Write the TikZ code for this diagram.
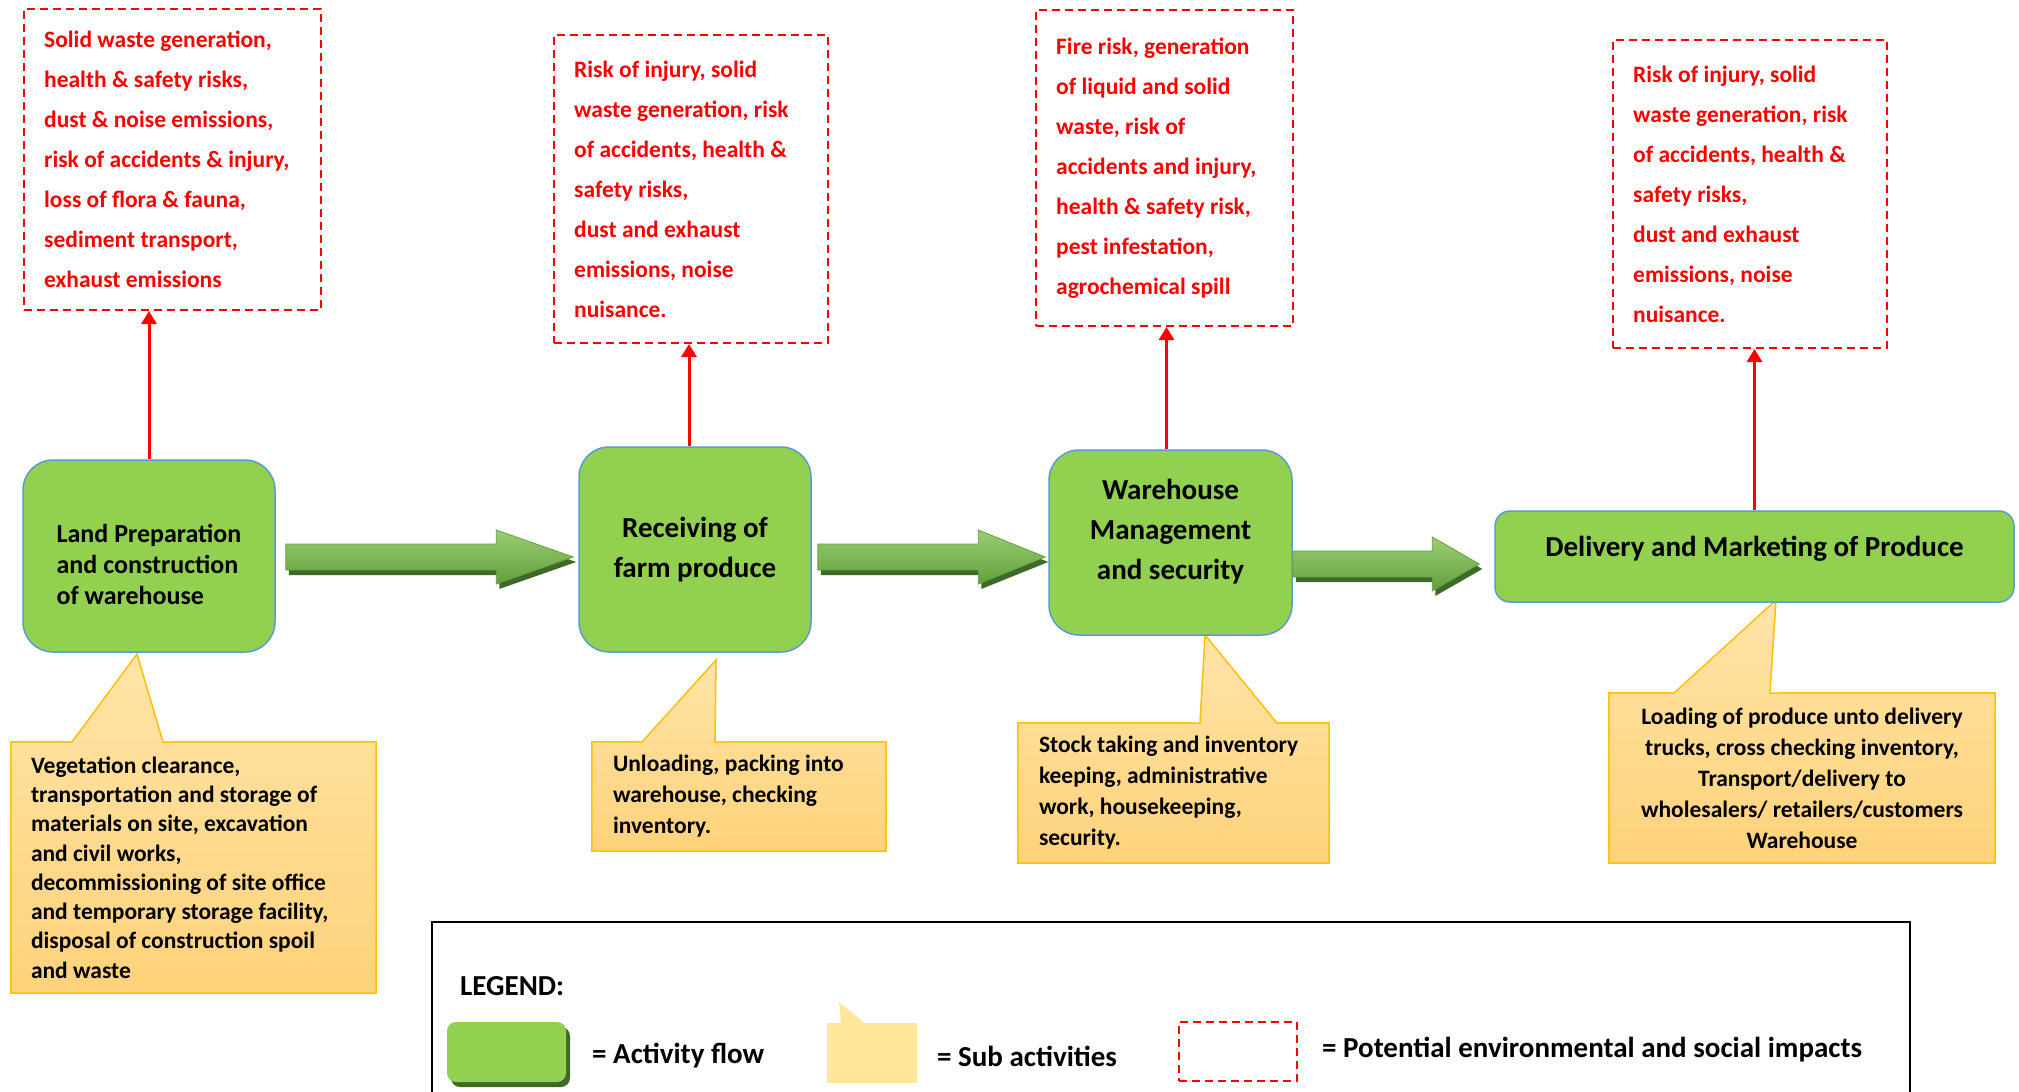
\documentclass[tikz,border=0pt]{standalone}
\usepackage{fontspec}
\setmainfont{Carlito}
\usetikzlibrary{arrows.meta,calc,backgrounds,shadows}

\definecolor{actgreen}{HTML}{92D050}
\definecolor{actline}{HTML}{5B9BD5}
\definecolor{subtop}{HTML}{FFE4A8}
\definecolor{subbottom}{HTML}{FED27A}
\definecolor{subline}{HTML}{FFC000}
\definecolor{legyellow}{HTML}{FFE699}
\definecolor{arrtop}{HTML}{9ACD73}
\definecolor{arrbottom}{HTML}{62A03C}
\definecolor{arrshadow}{HTML}{41682B}

\newcommand{\flowarrow}[3]{%
  \fill[arrshadow, transform canvas={shift={(3pt,-5pt)}}]
    ($(#1)+(0,-13)$) -- ($(#2)+(-#3,-13)$) -- ($(#2)+(-#3,-27)$) -- (#2)
    -- ($(#2)+(-#3,27)$) -- ($(#2)+(-#3,13)$) -- ($(#1)+(0,13)$) -- cycle;
  \shade[top color=arrtop, bottom color=arrbottom, draw=arrbottom, line width=0.8pt]
    ($(#1)+(0,-13)$) -- ($(#2)+(-#3,-13)$) -- ($(#2)+(-#3,-27)$) -- (#2)
    -- ($(#2)+(-#3,27)$) -- ($(#2)+(-#3,13)$) -- ($(#1)+(0,13)$) -- cycle;
}

\begin{document}
\begin{tikzpicture}[x=1pt,y=-1pt,
  activity/.style={rounded corners=30pt, fill=actgreen, draw=actline, line width=1.5pt,
    font=\fontsize{29}{40}\selectfont\bfseries, align=center},
  impact/.style={draw=red, dash pattern=on 8pt off 5pt, line width=2pt},
  impacttext/.style={text=red, font=\fontsize{23.5}{40}\selectfont\bfseries, align=left,
    inner sep=0pt, anchor=west},
  subbox/.style={inner sep=0pt},
  subtext/.style={font=\fontsize{23.5}{31}\selectfont\bfseries, align=left, inner sep=0pt, anchor=west},
  callout/.style={draw=subline, line width=1.5pt, top color=subtop, bottom color=subbottom},
  impactarrow/.style={draw=red, line width=3pt, -{Triangle[length=13pt,width=15pt]}},
  legendtext/.style={font=\fontsize{29}{35}\selectfont\bfseries, inner sep=0pt, anchor=west}
]
\useasboundingbox (0,0) rectangle (2019,1092);

\node[activity, font=\fontsize{26}{31}\selectfont\bfseries, align=left, text height=98pt,
  minimum width=252pt, minimum height=192pt] (land) at (149,556)
  {Land Preparation\\and construction\\of warehouse};
\node[activity, minimum width=232pt, minimum height=205pt] (recv) at (695,549.5)
  {Receiving of\\farm produce};
\node[activity, text depth=27pt, minimum width=243pt, minimum height=185pt] (store) at (1170.5,542.5)
  {Warehouse\\Management\\and security};
\node[activity, rounded corners=15pt, text depth=21pt, minimum width=519pt, minimum height=91pt] (deliver) at (1754.5,556.5)
  {Delivery and Marketing of Produce};

\node[impact, minimum width=297pt, minimum height=301pt] (risk1) at (172.5,159.5) {};
\node[impacttext] (risk1text) at ($(risk1.west)+(21,0)$)
  {Solid waste generation,\\health \& safety risks,\\dust \& noise emissions,\\risk of accidents \& injury,\\loss of flora \& fauna,\\sediment transport,\\exhaust emissions};
\node[impact, minimum width=274pt, minimum height=308pt] (risk2) at (691,189) {};
\node[impacttext] (risk2text) at ($(risk2.west)+(21,0)$)
  {Risk of injury, solid\\waste generation, risk\\of accidents, health \&\\safety risks,\\dust and exhaust\\emissions, noise\\nuisance.};
\node[impact, minimum width=257pt, minimum height=316pt] (risk3) at (1164.5,168) {};
\node[impacttext] (risk3text) at ($(risk3.west)+(21,0)$)
  {Fire risk, generation\\of liquid and solid\\waste, risk of\\accidents and injury,\\health \& safety risk,\\pest infestation,\\agrochemical spill};
\node[impact, minimum width=274pt, minimum height=308pt] (risk4) at (1750,194) {};
\node[impacttext] (risk4text) at ($(risk4.west)+(21,0)$)
  {Risk of injury, solid\\waste generation, risk\\of accidents, health \&\\safety risks,\\dust and exhaust\\emissions, noise\\nuisance.};

\draw[impactarrow] (land.north) -- (land.north |- risk1.south);
\draw[impactarrow] ($(recv.north)+(-6,0)$) -- ($(recv.north |- risk2.south)+(-6,0)$);
\draw[impactarrow] ($(store.north)+(-4,0)$) -- ($(store.north |- risk3.south)+(-4,0)$);
\draw[impactarrow] (deliver.north) -- (deliver.north |- risk4.south);

\coordinate (f1) at ($(land.east)+(10,1)$);
\coordinate (t1) at ($(f1 -| recv.west)+(-5,0)$);
\coordinate (f2) at ($(recv.east)+(6,7.5)$);
\coordinate (t2) at ($(f2 -| store.west)+(-3,0)$);
\coordinate (f3) at ($(store.east)+(0,21.5)$);
\coordinate (t3) at ($(f3 -| deliver.west)+(-15,0)$);
\flowarrow{f1}{t1}{77}
\flowarrow{f2}{t2}{67}
\flowarrow{f3}{t3}{47}

\node[subbox, minimum width=365pt, minimum height=251pt] (sub1) at (193.5,867.5) {};
\node[subtext, font=\fontsize{23.5}{29.3}\selectfont\bfseries] (sub1text) at ($(sub1.west)+(20,0)$)
  {Vegetation clearance,\\transportation and storage of\\materials on site, excavation\\and civil works,\\decommissioning of site office\\and temporary storage facility,\\disposal of construction spoil\\and waste};
\node[subbox, minimum width=294pt, minimum height=109pt] (sub2) at (739,796.5) {};
\node[subtext] (sub2text) at ($(sub2.west)+(21,0)$)
  {Unloading, packing into\\warehouse, checking\\inventory.};
\node[subbox, minimum width=311pt, minimum height=140pt] (sub3) at (1173.5,793) {};
\node[subtext] (sub3text) at ($(sub3.west)+(21,0)$)
  {Stock taking and inventory\\keeping, administrative\\work, housekeeping,\\security.};
\node[subbox, minimum width=386pt, minimum height=170pt] (sub4) at (1802,778) {};
\node[subtext, align=center, anchor=center] (sub4text) at (sub4.center)
  {Loading of produce unto delivery\\trucks, cross checking inventory,\\Transport/delivery to\\wholesalers/ retailers/customers\\Warehouse};

\begin{scope}[on background layer]
\fill[white] (0,0) rectangle (2019,1092);
\draw[callout] (sub1.north west) -- (72,742) -- (137,654) -- (163,742) -- (sub1.north east)
  -- (sub1.south east) -- (sub1.south west) -- cycle;
\draw[callout] (sub2.north west) -- (642,742) -- (716,660) -- (715,742) -- (sub2.north east)
  -- (sub2.south east) -- (sub2.south west) -- cycle;
\draw[callout] (sub3.north west) -- (1200,723) -- (1205,635) -- (1277,723) -- (sub3.north east)
  -- (sub3.south east) -- (sub3.south west) -- cycle;
\draw[callout] (sub4.north west) -- (1674,693) -- (1776,600) -- (1770,693) -- (sub4.north east)
  -- (sub4.south east) -- (sub4.south west) -- cycle;
\end{scope}

\node[draw, line width=2pt, minimum width=1478pt, minimum height=178pt] (legend) at (1171,1011) {};
\node[legendtext] (legtitle) at (460,986) {LEGEND:};
\node[fill=actgreen, rounded corners=9pt, minimum width=119pt, minimum height=60pt,
  drop shadow={shadow xshift=4pt, shadow yshift=-5pt, fill=arrshadow, opacity=1}] (legact) at (506.5,1052) {};
\node[legendtext] (legacttext) at (592,1056) {= Activity flow};
\node[fill=legyellow, minimum width=90pt, minimum height=60pt, inner sep=0pt] (legsub) at (872,1053) {};
\fill[legyellow] (841,1024) -- (839,1002) -- (866,1024) -- cycle;
\node[legendtext] (legsubtext) at (937,1056) {= Sub activities};
\node[draw=red, dash pattern=on 8pt off 5pt, line width=2pt, minimum width=118pt, minimum height=59pt] (legimp) at (1238,1051.5) {};
\node[legendtext] (legimptext) at (1322,1050) {= Potential environmental and social impacts};
\end{tikzpicture}
\end{document}
